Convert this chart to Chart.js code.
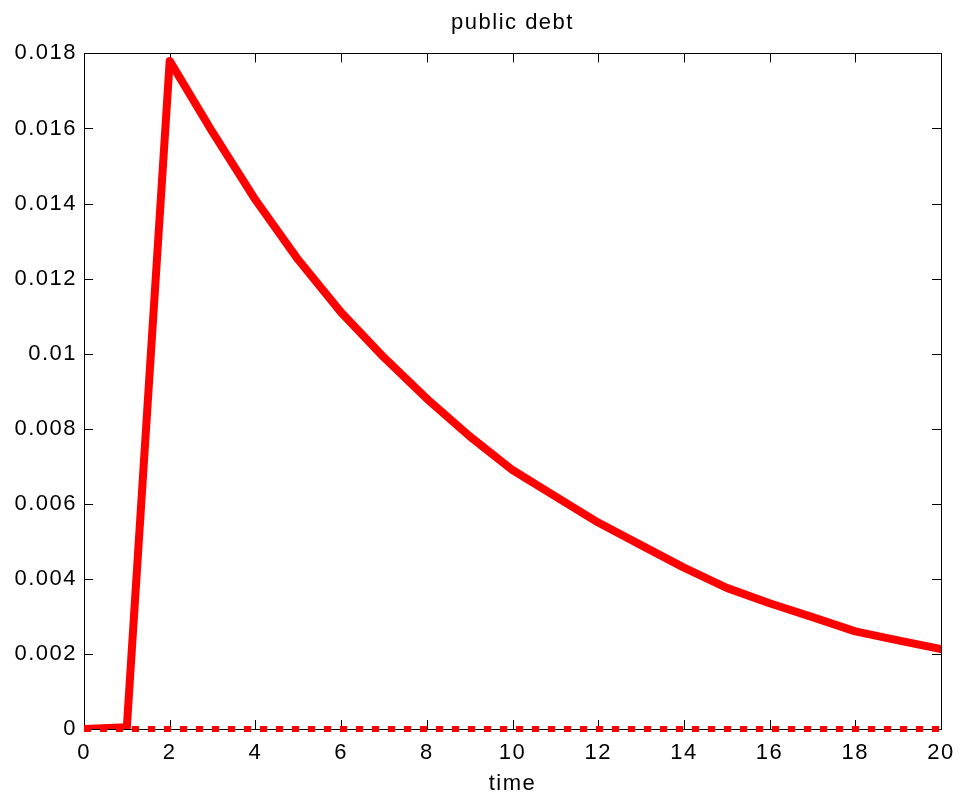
<!DOCTYPE html>
<html>
<head>
<meta charset="utf-8">
<script src="https://cdn.jsdelivr.net/npm/chart.js@4/dist/chart.umd.min.js"></script>
<style>
  html, body { margin: 0; padding: 0; background: #fff; }
  #wrap { width: 960px; height: 802px; }
</style>
</head>
<body>
<div id="wrap"><canvas id="grafico"></canvas></div>
<script>
// ── datos ─────────────────────────────
const tiempo = [0, 1, 2, 3, 4, 5, 6, 7, 8, 9, 10, 11, 12, 13, 14, 15, 16, 17, 18, 19, 20]
const deuda  = [0, 0.00005, 0.0178, 0.0159, 0.0141, 0.0125, 0.0111, 0.0099, 0.0088, 0.0078,
                0.0069, 0.0062, 0.0055, 0.0049, 0.0043, 0.00376, 0.00335, 0.00298, 0.0026,
                0.00236, 0.00213]
const estadoEstacionario = tiempo.map(() => 0)
const ticksX = [0, 2, 4, 6, 8, 10, 12, 14, 16, 18, 20]
const ticksY = [0, 0.002, 0.004, 0.006, 0.008, 0.01, 0.012, 0.014, 0.016, 0.018]

const FUENTE = "'Liberation Sans', Arial, sans-serif"
Chart.defaults.font.family = FUENTE
Chart.defaults.color = '#000'

// texto un poco más espaciado, como en las figuras de matlab
const espaciado = {
  id: 'espaciado',
  beforeLayout(chart) { chart.ctx.letterSpacing = '1.5px' },
  beforeDraw(chart)   { chart.ctx.letterSpacing = '1.5px' }
}

// caja con marcas hacia adentro en los cuatro lados
const cajaMatlab = {
  id: 'cajaMatlab',
  beforeDatasetsDraw(chart) {
    const { ctx, chartArea: a, scales: { x, y } } = chart
    const largo = 9
    ctx.save()
    ctx.strokeStyle = '#000'
    ctx.lineWidth = 1
    ctx.beginPath()
    ticksX.forEach(v => {
      const px = Math.round(x.getPixelForValue(v)) + 0.5
      ctx.moveTo(px, a.bottom); ctx.lineTo(px, a.bottom - largo)
      ctx.moveTo(px, a.top);    ctx.lineTo(px, a.top + largo)
    })
    ticksY.forEach(v => {
      const py = Math.round(y.getPixelForValue(v)) + 0.5
      ctx.moveTo(a.left, py);  ctx.lineTo(a.left + largo, py)
      ctx.moveTo(a.right, py); ctx.lineTo(a.right - largo, py)
    })
    ctx.stroke()
    ctx.strokeRect(Math.round(a.left) + 0.5, Math.round(a.top) + 0.5,
                   Math.round(a.right - a.left), Math.round(a.bottom - a.top))
    ctx.restore()
  }
}

new Chart(document.getElementById('grafico'), {
  type: 'line',
  data: {
    labels: tiempo,
    datasets: [
      {
        label: 'public debt',
        data: tiempo.map((t, i) => ({ x: t, y: deuda[i] })),
        borderColor: '#ff0000',
        borderWidth: 8,
        borderJoinStyle: 'round',
        borderCapStyle: 'round',
        pointRadius: 0,
        tension: 0,
        order: 1
      },
      {
        label: 'steady state',
        data: tiempo.map((t, i) => ({ x: t, y: estadoEstacionario[i] })),
        borderColor: '#ff0000',
        borderWidth: 6,
        borderDash: [7, 9],
        borderCapStyle: 'butt',
        pointRadius: 0,
        tension: 0,
        clip: false,
        order: 2
      }
    ]
  },
  options: {
    responsive: true,
    maintainAspectRatio: false,
    animation: false,
    layout: { padding: 0 },
    plugins: {
      legend: { display: false },
      tooltip: { enabled: false },
      title: {
        display: true,
        fullSize: false,
        text: 'public debt',
        font: { size: 22, weight: 'normal' },
        padding: { top: 10, bottom: 17 }
      }
    },
    scales: {
      x: {
        type: 'linear',
        min: 0, max: 20,
        afterBuildTicks: s => { s.ticks = ticksX.map(v => ({ value: v })) },
        afterFit: s => { s.height = 73; s.paddingLeft = 0; s.paddingRight = 19 },
        ticks: { font: { size: 22 }, padding: 11, maxRotation: 0 },
        grid: { display: false, drawTicks: false },
        border: { display: false },
        title: { display: true, text: 'time', font: { size: 22 }, padding: { top: 0, bottom: 5 } }
      },
      y: {
        min: 0, max: 0.018,
        afterBuildTicks: s => { s.ticks = ticksY.map(v => ({ value: v })) },
        afterFit: s => { s.width = 84 },
        ticks: {
          font: { size: 22 },
          padding: 7,
          callback: v => parseFloat(v.toFixed(3)).toString()
        },
        grid: { display: false, drawTicks: false },
        border: { display: false }
      }
    }
  },
  plugins: [espaciado, cajaMatlab]
})
</script>
</body>
</html>
